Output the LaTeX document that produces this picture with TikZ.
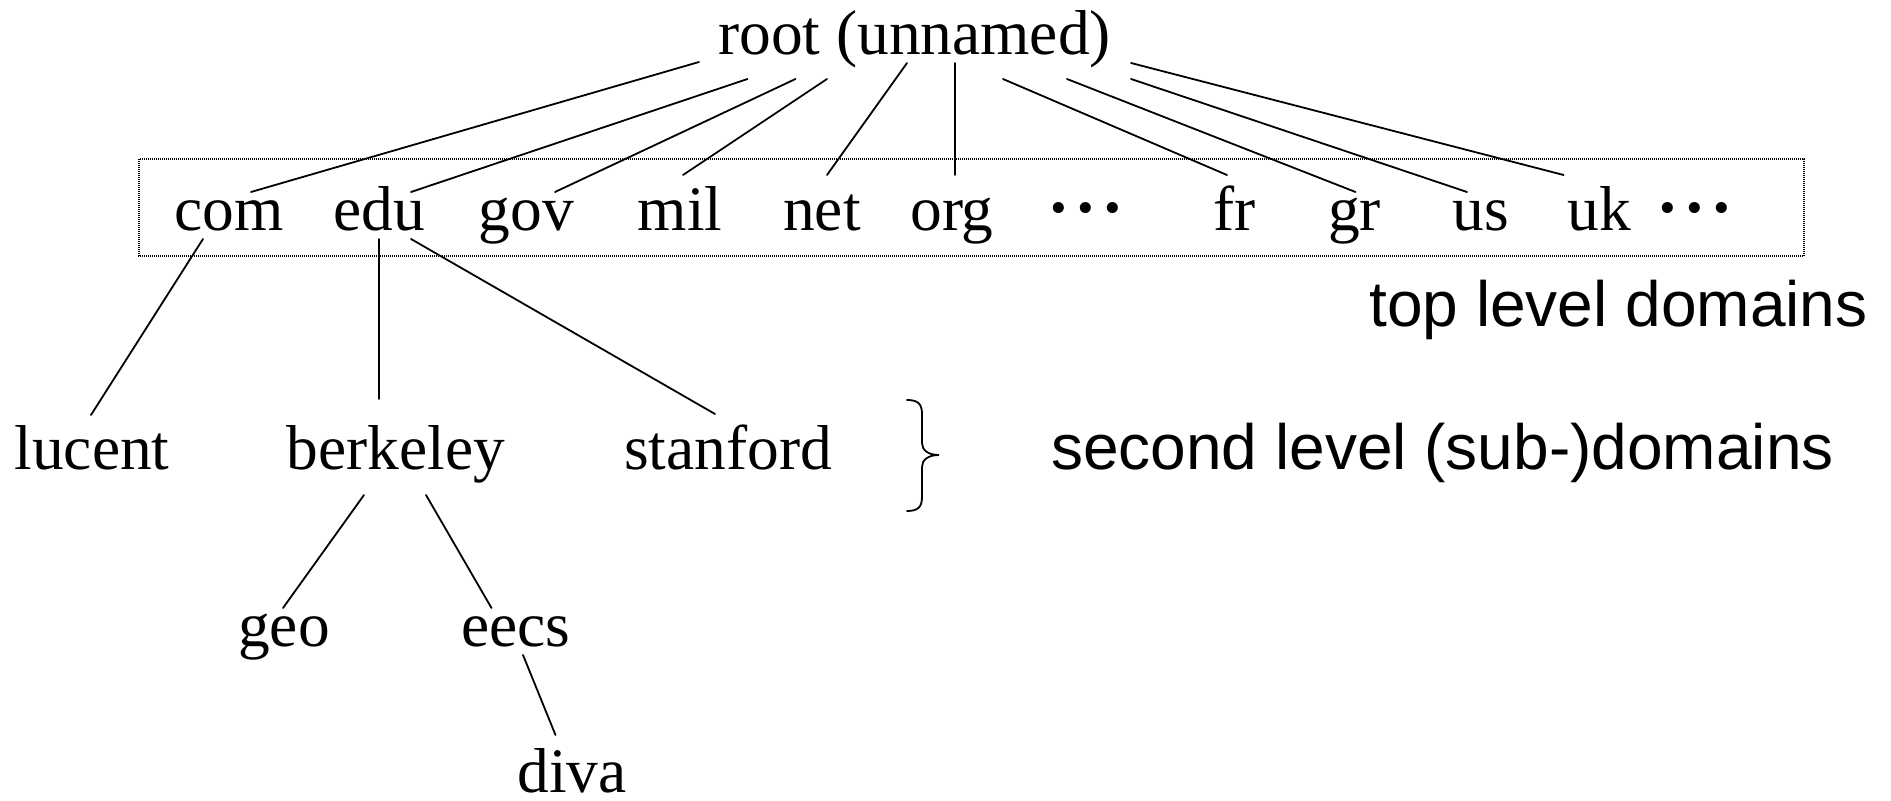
\documentclass[tikz,border=0pt]{standalone}
\usepackage{fontspec}
\setmainfont{Liberation Serif}
\newfontfamily\labelfont{Liberation Sans}
\usetikzlibrary{calc}

\tikzset{
  dom/.style={anchor=base, inner sep=0pt, font=\fontsize{31.7pt}{36pt}\selectfont},
  note/.style={anchor=base, inner sep=0pt, font=\labelfont\fontsize{32pt}{36pt}\selectfont},
  edge/.style={line width=0.9pt, line cap=round},
  tldframe/.style={line width=0.6pt, dash pattern=on 0.5pt off 0.5pt},
  bracepath/.style={line width=0.9pt, line cap=round}
}
% raised ellipsis used in the top level row
\newcommand{\moredots}{{\bfseries\fontsize{34pt}{36pt}\selectfont ·\kern2.2pt·\kern2.2pt·}}

\begin{document}
\begin{tikzpicture}[x=0.5pt, y=-0.5pt]
  \useasboundingbox (0,0) rectangle (1891,801);

  % root
  \node[dom] (root) at (914.5,55) {root (unnamed)};

  % top level domains
  \node[dom] (com) at (229,231) {com};
  \node[dom] (edu) at (379,231) {edu};
  \node[dom] (gov) at (526.5,231) {gov};
  \node[dom] (mil) at (680,231) {mil};
  \node[dom] (net) at (822,231) {net};
  \node[dom] (org) at (952,231) {org};
  \node[dom] (dotsA) at (1086,231) {\moredots};
  \node[dom] (fr) at (1234.5,231) {fr};
  \node[dom] (gr) at (1354.5,231) {gr};
  \node[dom] (us) at (1481,231) {us};
  \node[dom] (uk) at (1599.6,231) {uk};
  \node[dom] (dotsB) at (1694.6,231) {\moredots};

  % frame around the top level row
  \draw[tldframe] (139,159) rectangle (1804,256);

  % second level
  \node[dom] (lucent) at (92,470) {lucent};
  \node[dom] (berkeley) at (396,470) {berkeley};
  \node[dom] (stanford) at (728,470) {stanford};

  % third and fourth level
  \node[dom] (geo) at (284,647) {geo};
  \node[dom] (eecs) at (516,647) {eecs};
  \node[dom] (diva) at (572,792) {diva};

  % level labels
  \node[note] (toplabel) at (1618.5,327) {top level domains};
  \node[note] (seclabel) at (1442.5,470) {second level (sub-)domains};

  % brace next to the second level
  \draw[bracepath] (907,400) .. controls (918,400) and (922,404) .. (922,414)
    -- (922,443) .. controls (922,450) and (928,455) .. (939,455)
    .. controls (928,455) and (922,460) .. (922,467)
    -- (922,497) .. controls (922,507) and (918,511) .. (907,511);

  % root to top level
  \draw[edge] ($(root.base)+(-215.5,7)$) -- ($(com.base)+(22,-39)$);
  \draw[edge] ($(root.base)+(-167,24)$) -- ($(edu.base)+(32,-39)$);
  \draw[edge] ($(root.base)+(-119,24)$) -- ($(gov.base)+(28.5,-39)$);
  \draw[edge] ($(root.base)+(-87.5,24)$) -- ($(mil.base)+(3,-56)$);
  \draw[edge] ($(root.base)+(-7.5,8)$) -- ($(net.base)+(5,-56)$);
  \draw[edge] ($(root.base)+(40.5,8)$) -- ($(org.base)+(3,-56)$);
  \draw[edge] ($(root.base)+(88.5,24)$) -- ($(fr.base)+(-7.5,-56)$);
  \draw[edge] ($(root.base)+(152.5,24)$) -- ($(gr.base)+(1,-39)$);
  \draw[edge] ($(root.base)+(216.5,24)$) -- ($(us.base)+(-14,-39)$);
  \draw[edge] ($(root.base)+(216.5,8)$) -- ($(uk.base)+(-36,-56)$);

  % lower levels
  \draw[edge] ($(com.base)+(-26,8)$) -- ($(lucent.base)+(-1,-55)$);
  \draw[edge] ($(edu.base)+(0,8)$) -- ($(berkeley.base)+(-17,-71)$);
  \draw[edge] ($(edu.base)+(32,8)$) -- ($(stanford.base)+(-13,-56)$);
  \draw[edge] ($(berkeley.base)+(-32,25)$) -- ($(geo.base)+(-1,-39)$);
  \draw[edge] ($(berkeley.base)+(30,25)$) -- ($(eecs.base)+(-24.5,-39)$);
  \draw[edge] ($(eecs.base)+(7,8)$) -- ($(diva.base)+(-16.5,-57)$);
\end{tikzpicture}
\end{document}
